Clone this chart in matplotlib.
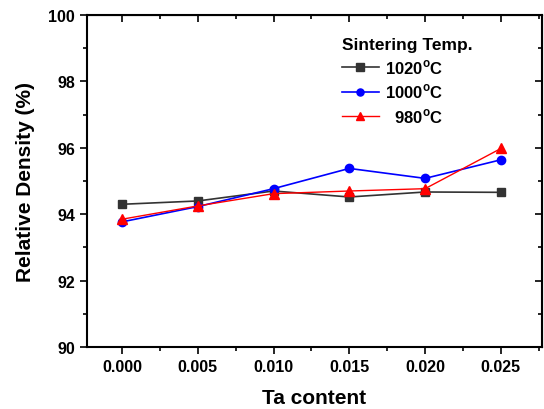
import matplotlib
matplotlib.use("Agg")
import matplotlib.pyplot as plt
from matplotlib.ticker import MultipleLocator

plt.rcParams["font.family"] = ["Liberation Sans", "DejaVu Sans"]
plt.rcParams["font.weight"] = "bold"
plt.rcParams["mathtext.fontset"] = "custom"
plt.rcParams["mathtext.rm"] = "Liberation Sans:bold"
plt.rcParams["mathtext.bf"] = "Liberation Sans:bold"

# Données
ta_content = [0.000, 0.005, 0.010, 0.015, 0.020, 0.025]
density_1020 = [94.30, 94.40, 94.70, 94.52, 94.67, 94.66]
density_1000 = [93.77, 94.23, 94.77, 95.38, 95.08, 95.64]
density_980 = [93.85, 94.25, 94.62, 94.70, 94.77, 95.98]
labels = ["1020$^{\\rm o}$C", "1000$^{\\rm o}$C", "  980$^{\\rm o}$C"]

fig = plt.figure(figsize=(5.44, 4.10), dpi=100)
ax = fig.add_axes([0.160, 0.151, 0.836, 0.810])

ax.plot(ta_content, density_1020, color="#333333", marker="s", markersize=6, lw=1.2, label=labels[0])
ax.plot(ta_content, density_1000, color="blue", marker="o", markersize=6, lw=1.2, label=labels[1])
ax.plot(ta_content, density_980, color="red", marker="^", markersize=7, lw=1.0, label=labels[2])

ax.set_xlim(-0.0023, 0.0277)
ax.set_ylim(90, 100)
ax.xaxis.set_major_locator(MultipleLocator(0.005))
ax.xaxis.set_minor_locator(MultipleLocator(0.0025))
ax.yaxis.set_major_locator(MultipleLocator(2))
ax.yaxis.set_minor_locator(MultipleLocator(1))
ax.xaxis.set_major_formatter(plt.FuncFormatter(lambda v, p: f"{v:.3f}"))
ax.yaxis.set_major_formatter(plt.FuncFormatter(lambda v, p: f"{v:.0f}"))

# ticks vers l'extérieur en bas/à gauche, vers l'intérieur en haut/à droite
ax.tick_params(which="both", direction="out", width=1.2, labelsize=11.5)
ax.tick_params(which="major", length=5)
ax.tick_params(which="minor", length=3)

top = ax.secondary_xaxis("top")
right = ax.secondary_yaxis("right")
top.xaxis.set_major_locator(MultipleLocator(0.005))
top.xaxis.set_minor_locator(MultipleLocator(0.0025))
right.yaxis.set_major_locator(MultipleLocator(2))
right.yaxis.set_minor_locator(MultipleLocator(1))
for sec in (top, right):
    sec.tick_params(which="both", direction="in", width=1.2, labeltop=False, labelright=False)
    sec.tick_params(which="major", length=5)
    sec.tick_params(which="minor", length=3)

for s in ax.spines.values():
    s.set_linewidth(1.5)

ax.set_xlabel("Ta content", fontsize=15, fontweight="bold", labelpad=10)
ax.set_ylabel("Relative Density (%)", fontsize=15, fontweight="bold", labelpad=10)

leg = ax.legend(title="Sintering Temp.", loc="upper left", bbox_to_anchor=(0.528, 0.98),
                frameon=False, fontsize=12, handlelength=2.2, labelspacing=0.35,
                handletextpad=0.4, markerscale=0.85)
leg.get_title().set_fontsize(12.5)
leg.get_title().set_fontweight("bold")
leg._legend_box.align = "left"

fig.savefig("out.png", dpi=100)
